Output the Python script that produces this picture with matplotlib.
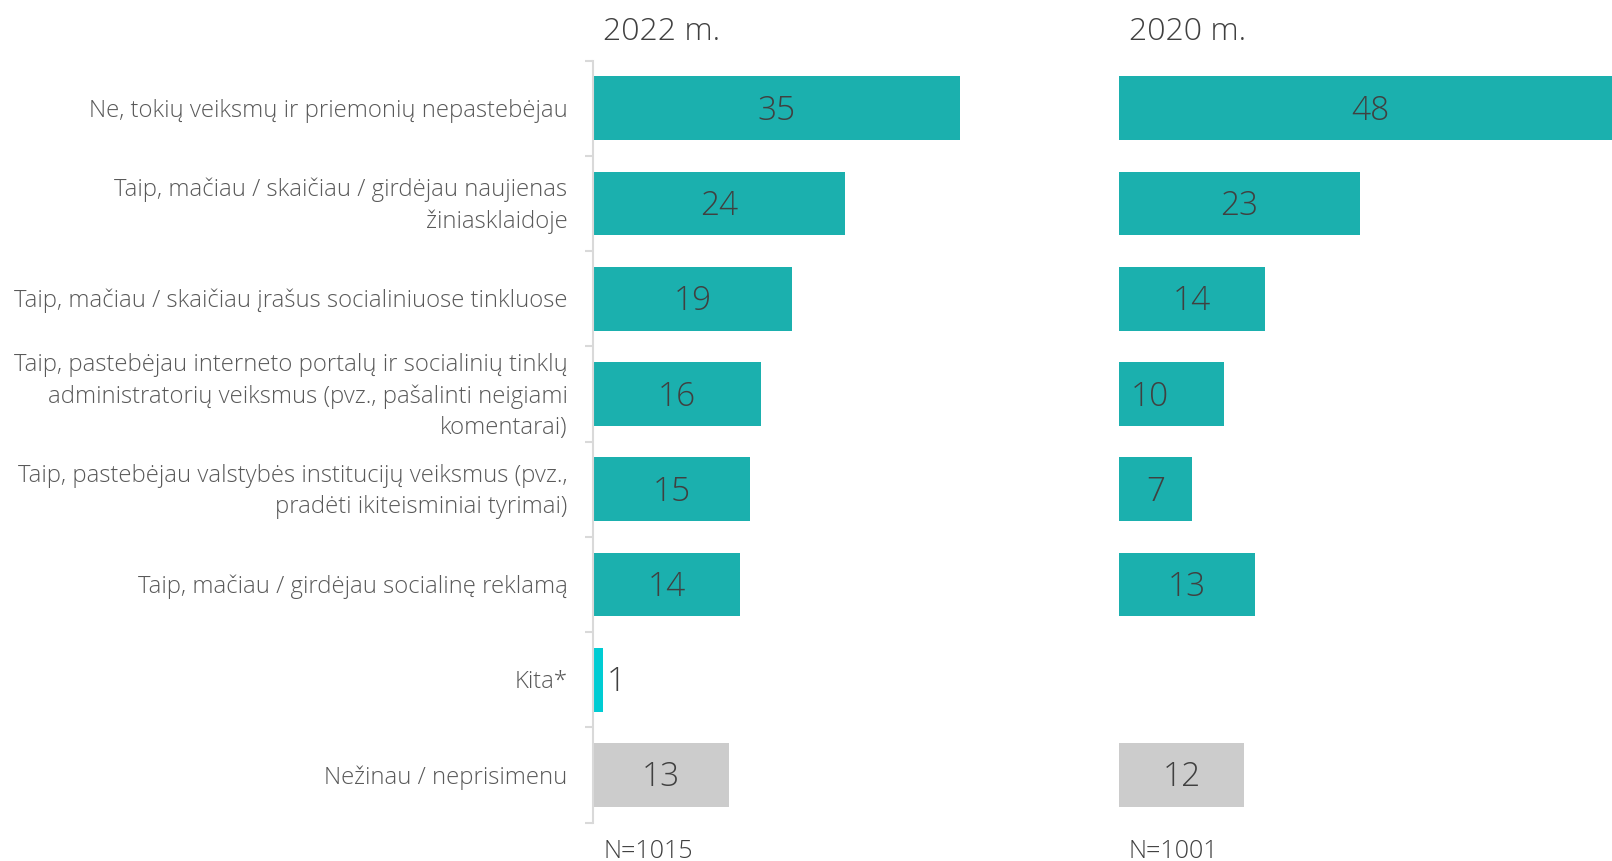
import matplotlib
matplotlib.use("Agg")
import matplotlib.pyplot as plt
from matplotlib import font_manager

categories = [
    "Ne, tokių veiksmų ir priemonių nepastebėjau",
    "Taip, mačiau / skaičiau / girdėjau naujienas\nžiniasklaidoje",
    "Taip, mačiau / skaičiau įrašus socialiniuose tinkluose",
    "Taip, pastebėjau interneto portalų ir socialinių tinklų\nadministratorių veiksmus (pvz., pašalinti neigiami\nkomentarai)",
    "Taip, pastebėjau valstybės institucijų veiksmus (pvz.,\npradėti ikiteisminiai tyrimai)",
    "Taip, mačiau / girdėjau socialinę reklamą",
    "Kita*",
    "Nežinau / neprisimenu",
]
values_2022 = [35, 24, 19, 16, 15, 14, 1, 13]
values_2020 = [48, 23, 14, 10, 7, 13, None, 12]
titles = ["2022 m.", "2020 m."]
sample_sizes = ["N=1015", "N=1001"]

TEAL = "#1bb0ae"
CYAN = "#00ccd3"
GREY = "#cccccc"
TXT = "#404040"
LBL = "#595959"

# pick a family that has a light face if possible (closest to Segoe UI Light)
FONT = "DejaVu Sans"
WEIGHT = "normal"
light = {}
for f in font_manager.fontManager.ttflist:
    w = f.weight if isinstance(f.weight, int) else font_manager.weight_dict.get(f.weight, 400)
    if w <= 300 and f.style == "normal":
        light.setdefault(f.name, []).append(w)
for name in ["Open Sans", "Noto Sans", "Lato", "Roboto", "Inter"]:
    if name in light:
        FONT, WEIGHT = name, max(light[name])
        break
else:
    names = {f.name for f in font_manager.fontManager.ttflist}
    if "Open Sans" in names:
        FONT = "Open Sans"
plt.rcParams["font.family"] = [FONT, "DejaVu Sans"]
plt.rcParams["font.weight"] = WEIGHT

W, H = 1612, 861
fig = plt.figure(figsize=(W / 100, H / 100), dpi=100)

px = 10.49  # pixels per unit
top_px, bot_px = 60.7, 822.5
y0 = 1 - bot_px / H
hgt = (bot_px - top_px) / H

left_x0 = 593
right_x0 = 1118.6
ax1 = fig.add_axes([left_x0 / W, y0, 470 / W, hgt])
ax2 = fig.add_axes([right_x0 / W, y0, (W - right_x0) / W, hgt])
ax1.set_xlim(0, 470 / px)
ax2.set_xlim(0, (W - right_x0) / px)

n = len(categories)
ypos = list(range(n))


def colour(i):
    if categories[i].startswith("Kita"):
        return CYAN
    if categories[i].startswith("Nežinau"):
        return GREY
    return TEAL


for k, (ax, vals) in enumerate([(ax1, values_2022), (ax2, values_2020)]):
    for i, v in enumerate(vals):
        if v is None:
            continue
        ax.barh(i, v, height=0.67, color=colour(i))
        if v < 3:
            ax.text(v + 0.35, i + 0.03, str(v), ha="left", va="center",
                    fontsize=24, color=TXT)
        else:
            xl = v / 2
            if k == 1 and i == 3:
                xl = 2.95
            ax.text(xl, i + 0.03, str(v), ha="center", va="center",
                    fontsize=24, color=TXT)
    ax.set_ylim(n - 0.5, -0.5)
    for s in ["top", "right", "bottom"]:
        ax.spines[s].set_visible(False)
    ax.set_xticks([])
    wpx = ax.get_xlim()[1] * px
    hpx = bot_px - top_px
    ax.text(10 / wpx, 1 + 29 / hpx, titles[k], transform=ax.transAxes,
            fontsize=23, color=TXT, ha="left", va="center")
    ax.text(10 / wpx, -16 / hpx, sample_sizes[k],
            transform=ax.transAxes, fontsize=18, color=TXT, ha="left", va="top")

# left axis: spine with boundary ticks, labels drawn as plain text
ax1.spines["left"].set_color("#d9d9d9")
ax1.spines["left"].set_linewidth(1.5)
ax1.set_yticks([i - 0.5 for i in range(n + 1)])
ax1.set_yticklabels([])
ax1.tick_params(axis="y", which="major", length=6, width=1.5, color="#d9d9d9")
lbl_x = -25.5 / px
for i, c in enumerate(categories):
    ax1.text(lbl_x, i + 0.025, c, ha="right", va="center", multialignment="right",
             fontsize=17.2, color=LBL, linespacing=1.38)

ax2.spines["left"].set_visible(False)
ax2.set_yticks([])

fig.savefig("out.png", dpi=100)
